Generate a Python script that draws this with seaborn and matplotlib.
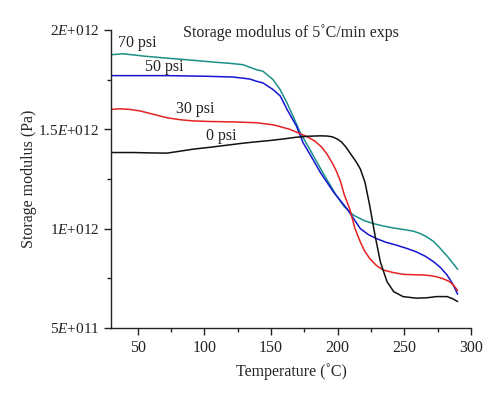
import matplotlib
matplotlib.use("Agg")
import matplotlib.pyplot as plt
import matplotlib.ticker as mticker
import seaborn as sns
import pandas as pd

# ---- data, temperature in deg C, modulus in 1E12 Pa ----
t_70 = [30, 39, 55, 72, 90, 109, 119, 129, 139, 144, 151.5, 156.8, 161.8, 166.5, 171.8, 179, 189, 199,
        205, 212, 220, 227, 235, 242, 250, 257, 262, 267, 272, 277, 283, 290]
v_70 = [1.875, 1.880, 1.868, 1.858, 1.848, 1.837, 1.832, 1.825, 1.800, 1.792, 1.750, 1.700, 1.635, 1.567,
        1.485, 1.400, 1.280, 1.167, 1.110, 1.067, 1.040, 1.025, 1.012, 1.003, 0.995, 0.987, 0.975, 0.958,
        0.935, 0.900, 0.855, 0.795]

t_50 = [30, 50, 72, 100, 121.6, 134, 139, 144, 151.5, 157, 162, 169, 174, 180, 187, 197, 207, 217,
        223, 229, 236, 244, 252, 259, 266, 272, 277, 282, 286, 290]
v_50 = [1.770, 1.770, 1.770, 1.767, 1.763, 1.753, 1.742, 1.733, 1.700, 1.667, 1.600, 1.517, 1.433, 1.365,
        1.283, 1.183, 1.100, 1.000, 0.970, 0.950, 0.932, 0.917, 0.900, 0.883, 0.860, 0.833, 0.805, 0.767,
        0.725, 0.670]

t_30 = [30, 37, 44, 52, 62, 72, 82, 91.5, 105, 121.6, 139, 152, 164, 177, 183, 188, 192, 196, 199, 202,
        205, 209, 213, 217, 220, 224, 229, 234, 241, 249, 257, 264, 270, 274, 279, 284, 287, 290]
v_30 = [1.600, 1.603, 1.600, 1.592, 1.575, 1.558, 1.548, 1.542, 1.539, 1.537, 1.533, 1.522, 1.500, 1.463,
        1.440, 1.410, 1.375, 1.330, 1.290, 1.240, 1.170, 1.100, 1.000, 0.933, 0.890, 0.850, 0.815, 0.792,
        0.780, 0.770, 0.768, 0.767, 0.763, 0.758, 0.748, 0.733, 0.715, 0.688]

t_0 = [30, 46.7, 60, 72, 82, 91.7, 105, 117, 129, 139, 150, 160, 169, 178, 187, 192, 196, 200, 203, 206,
       209, 214, 217, 220.5, 224, 228, 232, 237, 242, 249, 259, 267, 274, 282, 286, 290]
v_0 = [1.383, 1.383, 1.381, 1.380, 1.390, 1.400, 1.410, 1.420, 1.430, 1.437, 1.444, 1.452, 1.460, 1.465,
       1.467, 1.466, 1.462, 1.450, 1.435, 1.412, 1.383, 1.335, 1.300, 1.233, 1.117, 0.967, 0.833, 0.733,
       0.683, 0.658, 0.650, 0.652, 0.658, 0.658, 0.648, 0.633]

series_names = ["70 psi", "50 psi", "30 psi", "0 psi"]
series_colors = ["#1a9088", "#1414d2", "#e42222", "#111111"]
label_T = [50, 70, 93, 113]
label_V = [1.935, 1.815, 1.600, 1.465]

x_ticks = [50, 100, 150, 200, 250, 300]
y_ticks = [0.5e12, 1.0e12, 1.5e12, 2.0e12]
y_tick_labels = ["5$\\mathit{E}$+011", "1$\\mathit{E}$+012", "1.5$\\mathit{E}$+012", "2$\\mathit{E}$+012"]

title = "Storage modulus of 5˚C/min exps"
xlabel = "Temperature (˚C)"
ylabel = "Storage modulus (Pa)"

# ---- build data frame ----
frames = []
for name, t, v in zip(series_names, [t_70, t_50, t_30, t_0], [v_70, v_50, v_30, v_0]):
    frames.append(pd.DataFrame({"T": t, "E": [x * 1e12 for x in v], "series": name}))
df = pd.concat(frames, ignore_index=True)

# ---- style ----
sns.set_style("ticks")
plt.rcParams["font.family"] = ["Liberation Serif", "DejaVu Serif"]
plt.rcParams["mathtext.fontset"] = "custom"
plt.rcParams["mathtext.rm"] = "Liberation Serif"
plt.rcParams["mathtext.it"] = "Liberation Serif:italic"

fig = plt.figure(figsize=(5.0, 3.99), dpi=100)
ax = fig.add_axes([0.222, 0.178, 0.72, 0.747])

sns.lineplot(data=df, x="T", y="E", hue="series", hue_order=series_names,
             palette=series_colors, estimator=None, sort=False, linewidth=1.1,
             legend=False, ax=ax)

for name, tx, vy in zip(series_names, label_T, label_V):
    ax.text(tx, vy * 1e12, name, ha="center", va="center", fontsize=11.5, color="#222222")

ax.set_xlim(30, 300)
ax.set_ylim(0.5e12, 2.0e12)
ax.set_xticks(x_ticks)
ax.set_xticklabels([str(x) for x in x_ticks])
ax.set_yticks(y_ticks)
ax.set_yticklabels(y_tick_labels)
ax.xaxis.set_minor_locator(mticker.MultipleLocator(25))
ax.yaxis.set_minor_locator(mticker.MultipleLocator(0.25e12))
ax.tick_params(which="major", direction="out", length=5, width=1.0, labelsize=11, colors="#222222")
ax.tick_params(which="minor", direction="out", length=3, width=1.0, colors="#222222")
ax.tick_params(axis="x", labelsize=11.5)
for s in ["top", "right"]:
    ax.spines[s].set_visible(False)
for s in ["left", "bottom"]:
    ax.spines[s].set_linewidth(1.0)
    ax.spines[s].set_color("#222222")

ax.set_xlabel(xlabel, fontsize=11.5, labelpad=5)
ax.set_ylabel(ylabel, fontsize=11.5, labelpad=1)
ax.text(0.5, 0.99, title, transform=ax.transAxes, ha="center", va="center", fontsize=11.5)

fig.savefig("out.png", dpi=100)
